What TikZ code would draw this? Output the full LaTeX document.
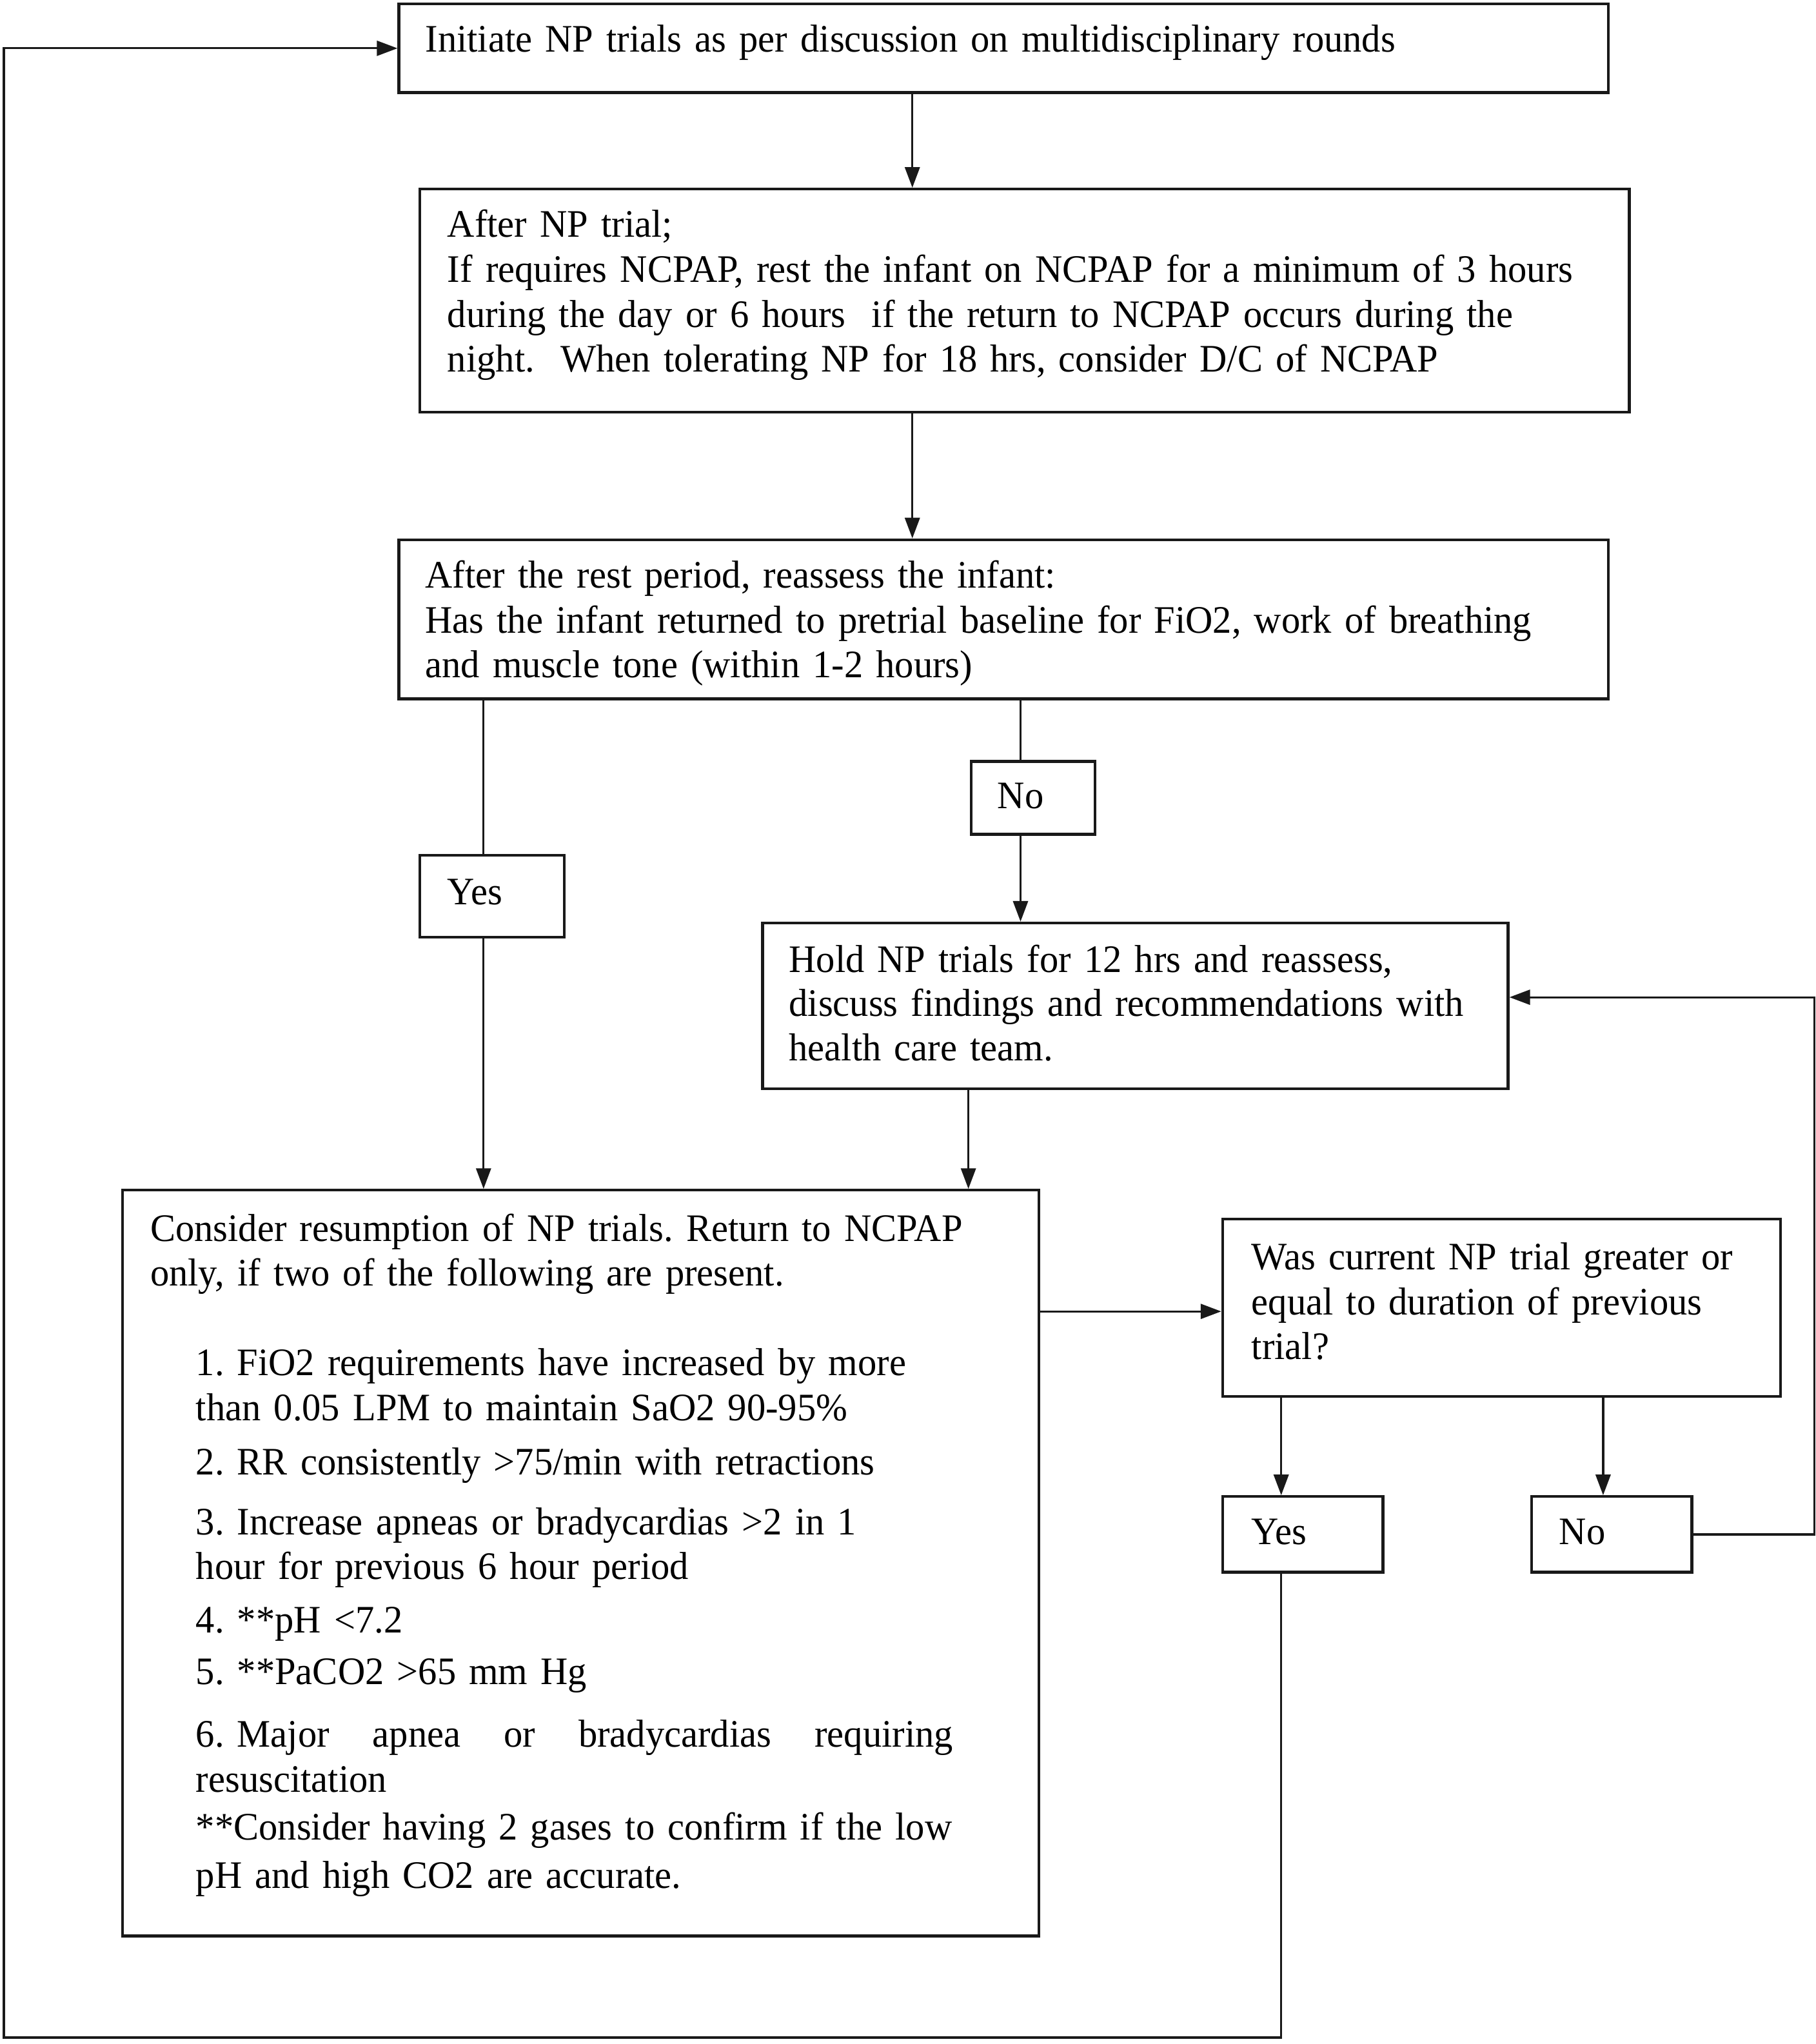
\documentclass[tikz,border=0pt]{standalone}
\usepackage{fontspec}
\setmainfont{Liberation Serif}[FakeStretch=0.97]
\usetikzlibrary{arrows.meta}
\begin{document}
\frenchspacing
\begin{tikzpicture}[x=0.02cm,y=-0.02cm,
  box/.style 2 args={draw=black!90, line width=1.2pt, fill=white, rectangle,
    minimum width=#1*0.02cm, minimum height=#2*0.02cm, inner sep=0pt, anchor=north west},
  txt/.style={anchor=base west, inner sep=0pt, text width=18cm, align=left,
    font=\fontsize{17pt}{19.6pt}\selectfont},
  conn/.style={draw=black!90, line width=0.9pt},
  arr/.style={conn, -{Triangle[length=9pt,width=6.5pt]}}
]
\useasboundingbox (0,0) rectangle (1393,1568);

% boxes
\node[box={928}{68}] (b1) at (305,2) {};
\node[box={928}{171}] (b2) at (321,144) {};
\node[box={928}{122}] (b3) at (305,413) {};
\node[box={95}{56}] (no1) at (744,583) {};
\node[box={111}{63}] (yes1) at (321,655) {};
\node[box={572}{127}] (hold) at (584,707) {};
\node[box={703}{572}] (cons) at (93,912) {};
\node[box={428}{136}] (was) at (937,934) {};
\node[box={123}{58}] (yes2) at (937,1147) {};
\node[box={123}{58}] (no2) at (1174,1147) {};

% texts
\node[txt] (t1) at (326,40) {Initiate NP trials as per discussion on multidisciplinary rounds};
\node[txt] (t2) at (343,182) {After NP trial;\\
If requires NCPAP, rest the infant on NCPAP for a minimum of 3 hours\\
during the day or 6 hours\ \ if the return to NCPAP occurs during the\\
night.\ \ When tolerating NP for 18 hrs, consider D/C of NCPAP};
\node[txt] (t3) at (326,451) {After the rest period, reassess the infant:\\
Has the infant returned to pretrial baseline for FiO2, work of breathing\\
and muscle tone (within 1-2 hours)};
\node[txt] (tno1) at (765,620) {No};
\node[txt] (tyes1) at (343,694) {Yes};
\node[txt] (thold) at (605,746) {Hold NP trials for 12 hrs and reassess,\\[-0.6pt]
discuss findings and recommendations with\\
health care team.};
\node[txt] (tcons) at (115,952) {Consider resumption of NP trials. Return to NCPAP\\
only, if two of the following are present.\\[19.5pt]
\hspace*{0.7cm}1. FiO2 requirements have increased by more\\
\hspace*{0.7cm}than 0.05 LPM to maintain SaO2 90-95\%\\[4.2pt]
\hspace*{0.7cm}2. RR consistently >75/min with retractions\\[6.5pt]
\hspace*{0.7cm}3. Increase apneas or bradycardias >2 in 1\\
\hspace*{0.7cm}hour for previous 6 hour period\\[3.6pt]
\hspace*{0.7cm}4. **pH <7.2\\[3.1pt]
\hspace*{0.7cm}5. **PaCO2 >65 mm Hg\\[7.6pt]
\hspace*{0.7cm}\hbox to 11.62cm{6. Major\hfill apnea\hfill or\hfill bradycardias\hfill requiring}\\
\hspace*{0.7cm}resuscitation\\[1.4pt]
\hspace*{0.7cm}**Consider having 2 gases to confirm if the low\\[1.4pt]
\hspace*{0.7cm}pH and high CO2 are accurate.};
\node[txt] (twas) at (960,974) {Was current NP trial greater or\\
equal to duration of previous\\
trial?};
\node[txt] (tyes2) at (960,1185) {Yes};
\node[txt] (tno2) at (1196,1185) {No};

% connectors
\draw[arr] (b1.south -| 700,0) -- (b2.north -| 700,0);
\draw[arr] (b2.south -| 700,0) -- (b3.north -| 700,0);
\draw[conn] (b3.south -| 371,0) -- (yes1.north -| 371,0);
\draw[arr] (yes1.south -| 371,0) -- (cons.north -| 371,0);
\draw[conn] (b3.south -| 783,0) -- (no1.north -| 783,0);
\draw[arr] (no1.south -| 783,0) -- (hold.north -| 783,0);
\draw[arr] (hold.south -| 743,0) -- (cons.north -| 743,0);
\draw[arr] (cons.east |- 0,1006) -- (was.west |- 0,1006);
\draw[arr] (was.south -| 983,0) -- (yes2.north -| 983,0);
\draw[arr] (was.south -| 1230,0) -- (no2.north -| 1230,0);
\coordinate (rloop) at (1392,765);
\draw[arr] (no2.east) -| (rloop) -- (hold.east |- rloop);
\coordinate (lloop) at (3,1563);
\draw[arr] (yes2.south -| 983,0) |- (lloop) |- (b1.west);
\end{tikzpicture}
\end{document}
